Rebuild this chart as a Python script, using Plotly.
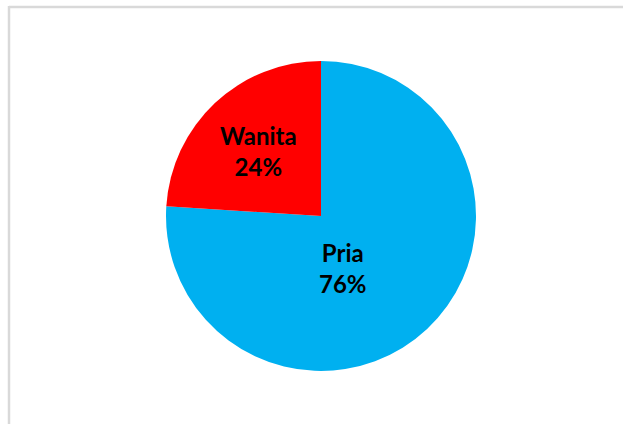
import plotly.graph_objects as go

labels = ["Pria", "Wanita"]
values = [76, 24]
colors = ["#00B0F0", "#FF0000"]

W, H = 623, 424
cx, cy, r = 321, 216, 155

# label anchor points (pixels) for each slice, as placed in the reference
label_px = {"Pria": (343, 268), "Wanita": (258, 151)}

fig = go.Figure(go.Pie(
    labels=labels,
    values=values,
    sort=False,
    direction="clockwise",
    rotation=0,
    marker=dict(colors=colors, line=dict(width=0)),
    textinfo="none",
    hoverinfo="label+percent",
    showlegend=False,
    domain=dict(x=[(cx - r) / W, (cx + r) / W], y=[1 - (cy + r) / H, 1 - (cy - r) / H]),
))

total = sum(values)
annotations = []
for lab, val in zip(labels, values):
    px, py = label_px[lab]
    annotations.append(dict(
        x=px / W, y=1 - py / H, xref="paper", yref="paper",
        text=f"<b>{lab}<br>{round(val / total * 100)}%</b>",
        showarrow=False, xanchor="center", yanchor="middle", align="center",
        font=dict(family="Lato", size=24, color="black"),
    ))

fig.update_layout(
    width=W, height=H,
    margin=dict(l=0, r=0, t=0, b=0),
    paper_bgcolor="white",
    plot_bgcolor="white",
    annotations=annotations,
    shapes=[
        dict(type="line", xref="paper", yref="paper", x0=9 / W, x1=1, y0=1 - 7 / H, y1=1 - 7 / H,
             line=dict(color="#D9D9D9", width=2.5)),
        dict(type="line", xref="paper", yref="paper", x0=9 / W, x1=9 / W, y0=0, y1=1 - 6 / H,
             line=dict(color="#D9D9D9", width=2.5)),
    ],
)

fig.write_html("out.html")
